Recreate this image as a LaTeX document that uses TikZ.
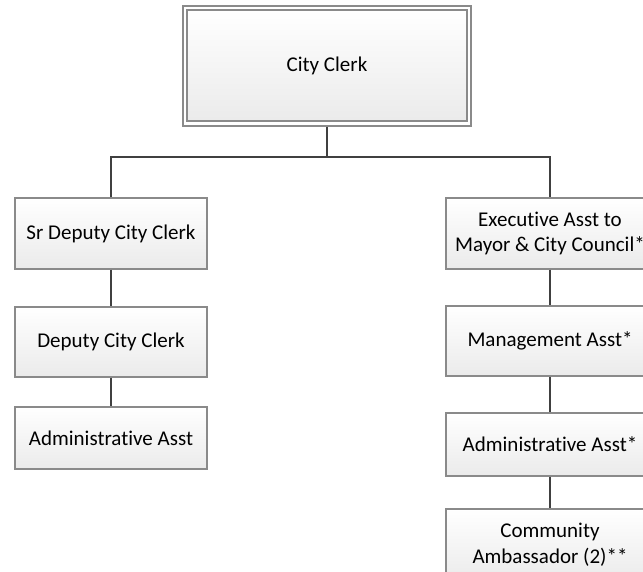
\documentclass[tikz,border=0pt]{standalone}
\usepackage{fontspec}
\setmainfont[Ligatures=NoCommon]{Carlito}
\definecolor{boxgray}{HTML}{8A8A8A}
\definecolor{linegray}{HTML}{404040}
\tikzset{
  box/.style={draw=boxgray, line width=1.3pt, top color=white, bottom color=black!8,
    inner sep=0pt, align=center, font=\fontsize{21}{25.6}\selectfont},
  lbox/.style={box, minimum width=192pt},
  rbox/.style={box, minimum width=208pt},
  conn/.style={draw=linegray, line width=2.6pt}
}
\begin{document}
\begin{tikzpicture}[x=1pt,y=-1pt]
\useasboundingbox (0,0) rectangle (643,572);
\clip (0,0) rectangle (643,572);
% top box with double border
\node[draw=boxgray, line width=1.3pt, fill=white, minimum width=288pt, minimum height=120pt, inner sep=0pt] (ccframe) at (327,66) {};
\node[box, minimum width=280pt, minimum height=111pt] (cc) at (327,65.5) {City Clerk};
% left column
\node[lbox, minimum height=71pt] (sr) at (111,233.5) {Sr Deputy City Clerk};
\node[lbox, minimum height=70pt] (dc) at (111,342) {Deputy City Clerk};
\node[lbox, minimum height=62pt] (aa) at (111,438) {Administrative Asst};
% right column
\node[rbox, minimum height=71pt] (ea) at (550,233.5) {Executive Asst to\\Mayor \& City Council*};
\node[rbox, minimum height=70pt] (ma) at (550,341) {Management Asst*};
\node[rbox, minimum height=63pt] (ra) at (550,444.5) {Administrative Asst*};
\node[rbox, minimum height=72pt] (ca) at (550,545) {Community\\Ambassador (2)**};
% connectors
\coordinate (jl) at (111,157);
\coordinate (jr) at (550,157);
\draw[conn] (ccframe.south) -- (ccframe.south |- jl);
\draw[conn] (sr.north) -- (jl) -- (jr) -- (ea.north);
\draw[conn] (sr.south) -- (dc.north);
\draw[conn] (dc.south) -- (aa.north);
\draw[conn] (ea.south) -- (ma.north);
\draw[conn] (ma.south) -- (ra.north);
\draw[conn] (ra.south) -- (ca.north);
\end{tikzpicture}
\end{document}
